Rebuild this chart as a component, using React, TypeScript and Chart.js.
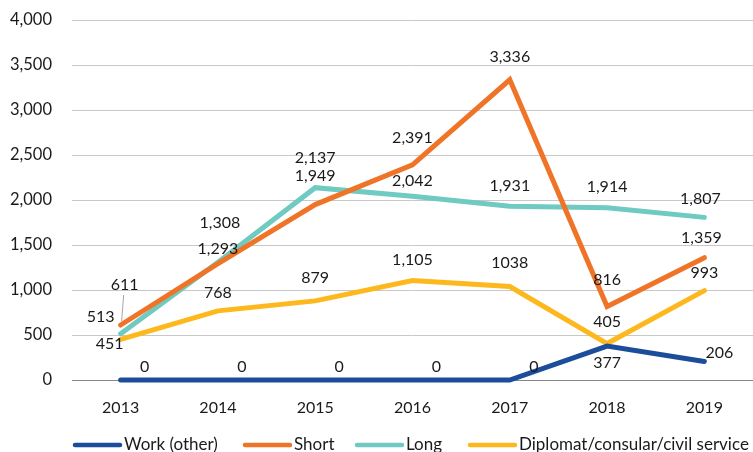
import React, { useEffect, useRef } from "react";
import { Chart, registerables } from "chart.js";

Chart.register(...registerables);

// ---- Data ----
const years = ["2013", "2014", "2015", "2016", "2017", "2018", "2019"];
const workOther = [0, 0, 0, 0, 0, 377, 206];
const shortStay = [611, 1293, 1949, 2391, 3336, 816, 1359];
const longStay = [513, 1308, 2137, 2042, 1931, 1914, 1807];
const diplomat = [451, 768, 879, 1105, 1038, 405, 993];
const seriesNames = ["Work (other)", "Short", "Long", "Diplomat/consular/civil service"];
const yMin = 0;
const yMax = 4000;
const yStep = 500;

// ---- Styles ----
const seriesColors = ["#1B4D9B", "#F07428", "#6FCAC2", "#FDB81E"];
const drawOrder = [1, 0, 3, 2];
const FONT = "Lato, 'Open Sans', sans-serif";
const TEXT = "#1a1a1a";

// label offsets (dx, dy) relative to each point, per series
const labelOffsets: number[][][] = [
  [[24, -13], [24, -13], [24, -13], [24, -13], [24, -13], [0, 17], [15, -9]],
  [[4, -40], [0, -15], [0, -29], [0, -27], [0, -23], [0, -27], [-3, -20]],
  [[-20, -17], [2, -39], [0, -30], [0, -15], [0, -20], [0, -21], [-4, -19]],
  [[-11, 4], [0, -18], [0, -23], [0, -21], [0, -24], [0, -22], [0, -18]],
];
// points whose label is shown without thousands separator
const plainLabels = [{ s: 3, i: 4 }];
// points with a leader line
const leaderLines = [{ s: 1, i: 0 }];
// legend item left edges
const legendItemX = [73, 243, 355, 468];

const fmt = (v: number) => v.toLocaleString("en-US");

const dataLabelPlugin = {
  id: "dataLabels",
  afterDatasetsDraw(chart: any) {
    const ctx = chart.ctx;
    ctx.save();
    ctx.font = `16px ${FONT}`;
    ctx.fillStyle = TEXT;
    ctx.textAlign = "center";
    ctx.textBaseline = "middle";
    chart.data.datasets.forEach((ds: any, s: number) => {
      const meta = chart.getDatasetMeta(s);
      meta.data.forEach((pt: any, i: number) => {
        const v = ds.data[i];
        const [dx, dy] = labelOffsets[s][i];
        const plain = plainLabels.some((p) => p.s === s && p.i === i);
        const txt = plain ? String(v) : fmt(v);
        ctx.fillText(txt, pt.x + dx, pt.y + dy);
        if (leaderLines.some((p) => p.s === s && p.i === i)) {
          ctx.save();
          ctx.strokeStyle = "#a6a6a6";
          ctx.lineWidth = 1;
          ctx.beginPath();
          ctx.moveTo(pt.x + dx - 1, pt.y + dy + 10);
          ctx.lineTo(pt.x + 1, pt.y - 4);
          ctx.stroke();
          ctx.restore();
        }
      });
    });
    ctx.restore();
  },
};

const legendPlugin = {
  id: "customLegend",
  afterDraw(chart: any) {
    const ctx = chart.ctx;
    ctx.save();
    ctx.font = `17px ${FONT}`;
    ctx.textBaseline = "middle";
    ctx.textAlign = "left";
    const y = 445;
    const boxW = 45;
    chart.data.datasets.forEach((ds: any, s: number) => {
      const x = legendItemX[s] + 2;
      ctx.strokeStyle = seriesColors[s];
      ctx.lineWidth = 4.5;
      ctx.lineCap = "round";
      ctx.beginPath();
      ctx.moveTo(x, y);
      ctx.lineTo(x + boxW, y);
      ctx.stroke();
      ctx.fillStyle = TEXT;
      ctx.fillText(ds.label, x + boxW + 4, y);
    });
    ctx.restore();
  },
};

export default function App() {
  const ref = useRef<HTMLCanvasElement | null>(null);
  useEffect(() => {
    if (!ref.current) return;
    const series = [workOther, shortStay, longStay, diplomat];
    const chart = new Chart(ref.current, {
      type: "line",
      data: {
        labels: years,
        datasets: series.map((d, s) => ({
          label: seriesNames[s],
          data: d,
          borderColor: seriesColors[s],
          backgroundColor: seriesColors[s],
          borderWidth: 5,
          pointRadius: 0,
          pointHoverRadius: 0,
          tension: 0,
          borderCapStyle: "round" as const,
          borderJoinStyle: "miter" as const,
          order: drawOrder[s],
          clip: false as any,
        })),
      },
      options: {
        responsive: false,
        animation: false,
        events: [],
        layout: { padding: { top: 20, right: 0, bottom: 0, left: 0 } },
        plugins: {
          legend: { display: false },
          tooltip: { enabled: false },
          title: { display: false },
        },
        scales: {
          x: {
            type: "category",
            offset: true,
            grid: { display: false, drawTicks: false },
            border: { display: true, color: "#868686", width: 1 },
            ticks: { font: { family: FONT, size: 16 }, color: TEXT, padding: 18, maxRotation: 0 },
            afterFit: (scale: any) => {
              scale.height = 72;
              scale.paddingLeft = 0;
              scale.paddingRight = 0;
            },
          },
          y: {
            min: yMin,
            max: yMax,
            grid: { color: "#c8c8c8", lineWidth: 1, drawTicks: false },
            border: { display: false },
            ticks: {
              stepSize: yStep,
              font: { family: FONT, size: 16.5 },
              color: TEXT,
              padding: 20,
              callback: (v: any) => fmt(Number(v)),
            },
            afterFit: (scale: any) => {
              scale.width = 72;
              scale.paddingTop = 0;
              scale.paddingBottom = 0;
            },
          },
        },
      },
      plugins: [dataLabelPlugin, legendPlugin],
    });
    return () => chart.destroy();
  }, []);
  return (
    <div style={{ position: "fixed", left: 0, top: 0, width: 753, height: 452, background: "#fff" }}>
      <canvas ref={ref} width={753} height={452} />
    </div>
  );
}
